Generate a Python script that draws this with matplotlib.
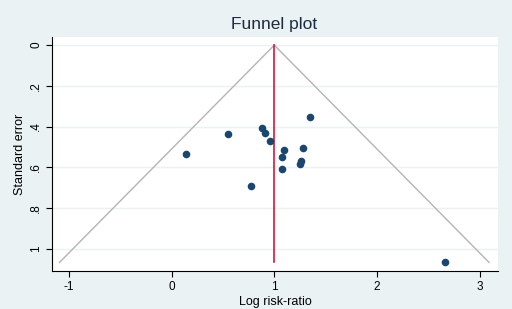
import matplotlib
matplotlib.use("Agg")
import matplotlib.pyplot as plt
import numpy as np

# Data (log risk-ratio, standard error)
log_rr = [1.346, 0.548, 0.884, 0.906, 0.962, 0.141, 1.099, 1.284, 1.072, 1.258, 1.251, 1.075, 0.769, 2.66]
se = [0.355, 0.436, 0.409, 0.434, 0.470, 0.536, 0.513, 0.506, 0.550, 0.567, 0.585, 0.611, 0.691, 1.068]
pooled = 1.0
x_ticks = [-1, 0, 1, 2, 3]
y_ticks = [0, 0.2, 0.4, 0.6, 0.8, 1.0]
y_tick_labels = ["0", ".2", ".4", ".6", ".8", "1"]

plt.rcParams['font.family'] = ['Liberation Sans', 'DejaVu Sans']
bg = '#EAF2F3'
fig = plt.figure(figsize=(5.12, 3.09), dpi=100, facecolor=bg)
ax = fig.add_axes([52/512, 1-271/309, (498-52)/512, (271-37)/309])
ax.set_facecolor('white')

semax = max(se)
ax.plot([pooled - 1.96*semax, pooled, pooled + 1.96*semax], [semax, 0, semax],
        color='#B4B4B4', lw=1.0, zorder=2)
ax.plot([pooled, pooled], [0, semax], color='#E0103A', lw=1.2, zorder=3)
ax.scatter(log_rr, se, s=30, color='#1A476F', zorder=4, linewidths=0)

ax.set_xlim(-1.166, 3.18)
ax.set_ylim(1.11, -0.04)
ax.set_xticks(x_ticks)
ax.set_xticklabels([str(t) for t in x_ticks])
ax.set_yticks(y_ticks)
ax.set_yticklabels(y_tick_labels, rotation=90, va='center')
ax.yaxis.grid(True, color=bg, lw=1.0)
ax.set_axisbelow(True)
for s in ['top', 'right']:
    ax.spines[s].set_visible(False)
for s in ['left', 'bottom']:
    ax.spines[s].set_color('black')
    ax.spines[s].set_linewidth(0.8)
ax.tick_params(axis='both', direction='out', length=4, width=0.8, labelsize=8.5, colors='black', pad=3)
ax.set_xlabel('Log risk-ratio', fontsize=9, labelpad=2)
ax.set_ylabel('Standard error', fontsize=9, labelpad=3)
fig.text(274/512, 1-25/309, 'Funnel plot', ha='center', va='center', fontsize=12.5, color='#1E2A40')

fig.savefig('out.png', dpi=100, facecolor=bg)
